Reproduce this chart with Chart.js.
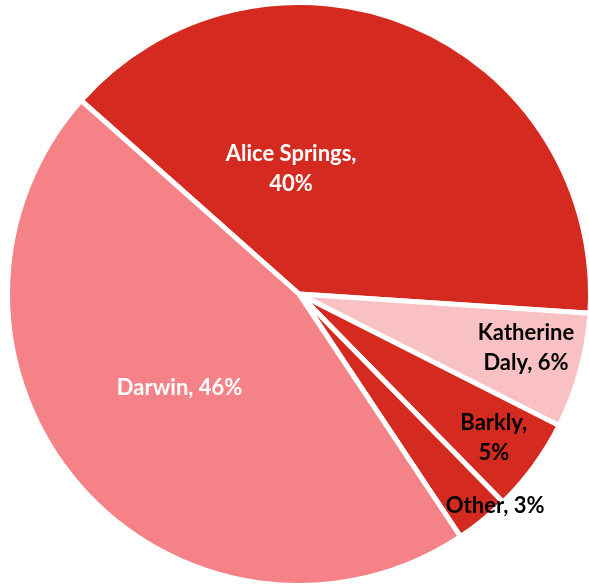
<!DOCTYPE html>
<html>
<head>
<meta charset="utf-8">
<script src="https://cdn.jsdelivr.net/npm/chart.js@4/dist/chart.umd.min.js"></script>
<style>
  html, body { margin: 0; padding: 0; background: #fff; overflow: hidden; }
  #wrap { position: absolute; left: 5px; top: 0px; width: 588px; height: 588px; }
</style>
</head>
<body>
<div id="wrap"><canvas id="myChart"></canvas></div>
<script>
// share of total by region, clockwise from the Darwin / Alice Springs edge
let regions = ['Alice Springs', 'Katherine Daly', 'Barkly', 'Other', 'Darwin'];
let shares = [39.5, 6.4, 5.2, 3.0, 45.9];

let slice_colors = ['#d52a20', '#f9c1c4', '#d52a20', '#d52a20', '#f48287'];
let text_colors = ['#ffffff', '#000000', '#000000', '#000000', '#ffffff'];

// where each label sits: fraction along the slice angle, fraction of radius, wrap width
let label_place = [
    [0.315, 0.43, 150],
    [0.41, 0.80, 110],
    [0.51, 0.83, 76],
    [0.15, 0.99, 200],
    [0.518, 0.52, 300]
];

function wrap_words(ctx, text, max_width)
{
    let words = text.split(' ');
    let lines = [];
    let line = '';
    for (let i = 0; i < words.length; i++) {
        let test = line ? line + ' ' + words[i] : words[i];
        if (line && ctx.measureText(test).width > max_width) {
            lines.push(line);
            line = words[i];
        } else {
            line = test;
        }
    }
    if (line) lines.push(line);
    return lines;
}

const sliceLabels = {
    id: 'sliceLabels',
    afterDatasetsDraw(chart) {
        let ctx = chart.ctx;
        let arcs = chart.getDatasetMeta(0).data;
        ctx.save();
        ctx.font = 'bold 22px Lato';
        ctx.textAlign = 'center';
        ctx.textBaseline = 'middle';
        for (let i = 0; i < arcs.length; i++) {
            let arc = arcs[i];
            let p = arc.getProps(['x', 'y', 'startAngle', 'endAngle', 'outerRadius'], true);
            let ang = p.startAngle + label_place[i][0] * (p.endAngle - p.startAngle);
            let r = label_place[i][1] * p.outerRadius;
            let cx = p.x + Math.cos(ang) * r;
            let cy = p.y + Math.sin(ang) * r;
            let text = regions[i] + ', ' + Math.round(shares[i]) + '%';
            let lines = wrap_words(ctx, text, label_place[i][2]);
            let lh = 30;
            ctx.fillStyle = text_colors[i];
            for (let j = 0; j < lines.length; j++) {
                ctx.fillText(lines[j], cx, cy + (j - (lines.length - 1) / 2) * lh);
            }
        }
        ctx.restore();
    }
};

let config = {
    type: 'pie',
    data: {
        labels: regions,
        datasets: [
            {
                data: shares,
                backgroundColor: slice_colors,
                borderColor: '#ffffff',
                borderWidth: 5
            }
        ]
    },
    options: {
        responsive: true,
        maintainAspectRatio: false,
        animation: false,
        rotation: -48.4,
        layout: { padding: 0 },
        plugins: {
            legend: { display: false },
            tooltip: { enabled: false }
        }
    },
    plugins: [sliceLabels]
};

window.chart = new Chart(document.getElementById('myChart'), config);
</script>
</body>
</html>
